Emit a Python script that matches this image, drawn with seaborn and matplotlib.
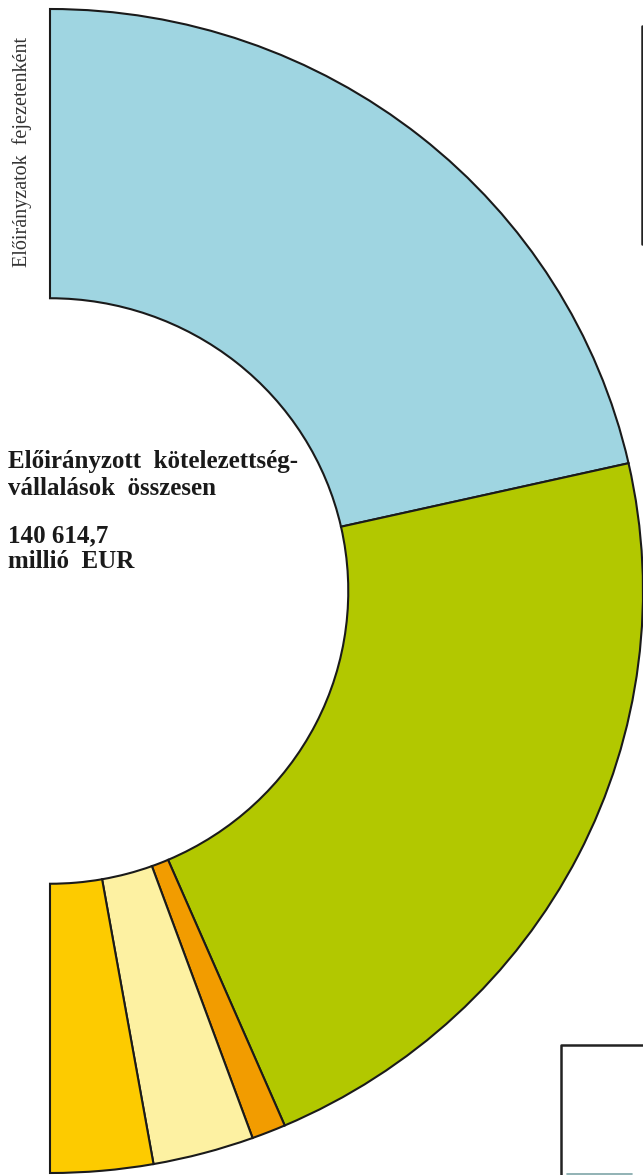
import matplotlib
matplotlib.use('Agg')
import matplotlib.pyplot as plt
from matplotlib.lines import Line2D
import seaborn as sns

# fejezetek (million EUR)
chapters = ['1. Fenntartható növekedés',
            '2. Természeti erőforrások',
            '3. Uniós polgárság, szabadság, biztonság és jog',
            '4. Az EU mint globális szereplő',
            '5. Igazgatás']
values = [60400, 62000, 2610, 7750, 7854.7]
colors = ['#9fd5e1', '#b2c800', '#f29c00', '#fdf1a2', '#fdcb00']

total_label = '140 614,7'
side_label = 'Előirányzatok  fejezetenként'

sns.set_theme(style='white')
plt.rcParams['font.family'] = ['Liberation Serif', 'DejaVu Serif']

W, H = 643, 1175
fig = plt.figure(figsize=(W / 100, H / 100), dpi=100)
ax = fig.add_axes([0, 0, 1, 1])

total = sum(values)
wedges, _ = ax.pie(values + [total], colors=colors + ['none'],
                   startangle=90, counterclock=False, radius=1,
                   wedgeprops=dict(width=0.497, edgecolor='#1a1a1a', linewidth=1.5))
wedges[-1].set_visible(False)

# centre at pixel (50, 591); slightly wider than tall like the print
cx, cy, rx, ry = 50, 591, 593, 582
ax.set_aspect('auto')
ax.set_xlim(-cx / rx, (W - cx) / rx)
ax.set_ylim(-(H - cy) / ry, cy / ry)
ax.axis('off')


def fy(py):
    return 1 - py / H


txt = dict(fontsize=18, fontweight='bold', color='#1a1a1a', va='baseline')
fig.text(8 / W, fy(468), 'Előirányzott  kötelezettség-', **txt)
fig.text(8 / W, fy(495), 'vállalások  összesen', **txt)
fig.text(8 / W, fy(542), total_label, **txt)
fig.text(8 / W, fy(568), 'millió  EUR', **txt)

fig.text(22.5 / W, fy(152), side_label, fontsize=14.5, rotation=90,
         ha='center', va='center', color='#333333')

# edges of the neighbouring boxes
fig.add_artist(Line2D([641.5 / W, 641.5 / W], [fy(26), fy(244)],
                      transform=fig.transFigure, color='#222222', lw=1.8))
fig.add_artist(Line2D([560.5 / W, 560.5 / W, W / W], [fy(H), fy(1044.5), fy(1044.5)],
                      transform=fig.transFigure, color='#222222', lw=1.8))
fig.add_artist(Line2D([567 / W, 632 / W], [fy(1174), fy(1174)],
                      transform=fig.transFigure, color='#7fa6a8', lw=1.2))

fig.savefig('out.png', dpi=100)
